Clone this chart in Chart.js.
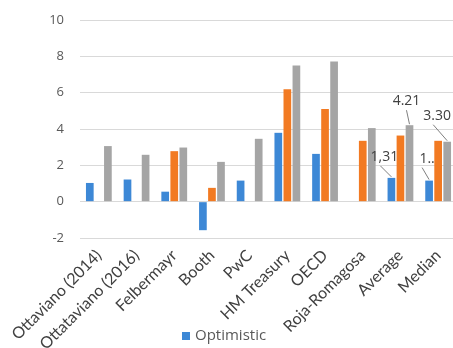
<!DOCTYPE html>
<html>
<head>
    <title>Scenario Estimates</title>
    <meta charset="UTF-8">
    <script src="https://cdn.jsdelivr.net/npm/chart.js"></script>
    <style>
        body { margin: 0; overflow: hidden; background: #fff; font-family: "Open Sans", sans-serif; }
        #wrap { position: absolute; left: 0; top: 0; width: 457px; height: 348px; }
        #legend { position: absolute; left: 182px; top: 324px; font-size: 15px; color: #595959; }
        #legend span.box { display: inline-block; width: 8px; height: 8px; background: #3d88d6; margin-right: 5px; }
    </style>
</head>
<body>
    <div id="wrap"><canvas id="estimatesChart"></canvas></div>
    <div id="legend"><span class="box"></span>Optimistic</div>

    <script>
        const categories = ['Ottaviano (2014)', 'Ottataviano (2016)', 'Felbermayr', 'Booth', 'PwC',
            'HM Treasury', 'OECD', 'Roja-Romagosa', 'Average', 'Median'];
        const optimistic  = [1.03, 1.22, 0.55, -1.57, 1.16, 3.79, 2.63, null, 1.31, 1.16];
        const central     = [null, null, 2.78, 0.76, null, 6.19, 5.10, 3.35, 3.64, 3.35];
        const pessimistic = [3.06, 2.58, 2.98, 2.19, 3.46, 7.50, 7.72, 4.05, 4.21, 3.30];
        const yTicks = [-2, 0, 2, 4, 6, 8, 10];

        // labels next to a few bars: [dataset, index, text, dx, dy, leader end dx]
        const valueLabels = [
            [0, 8, '1,31', -7, -21, -4],
            [2, 8, '4.21', -3, -24, 0],
            [2, 9, '3.30', -10, -26, -4],
            [0, 9, '1..', -2, -22, -5]
        ];

        const calloutPlugin = {
            id: 'callouts',
            afterDatasetsDraw(chart) {
                const ctx = chart.ctx;
                ctx.save();
                ctx.font = '14px "Open Sans"';
                ctx.fillStyle = '#404040';
                ctx.strokeStyle = '#7f7f7f';
                ctx.lineWidth = 1;
                ctx.textAlign = 'center';
                ctx.textBaseline = 'middle';
                valueLabels.forEach(([ds, i, text, dx, dy, lx]) => {
                    const bar = chart.getDatasetMeta(ds).data[i];
                    const tx = bar.x + dx, ty = bar.y + dy;
                    ctx.beginPath();
                    ctx.moveTo(bar.x, bar.y - 1);
                    ctx.lineTo(tx + lx, ty + 9);
                    ctx.stroke();
                    ctx.fillText(text, tx, ty);
                });
                ctx.restore();
            }
        };

        const ctx = document.getElementById('estimatesChart').getContext('2d');
        new Chart(ctx, {
            type: 'bar',
            data: {
                labels: categories,
                datasets: [
                    { label: 'Optimistic', data: optimistic, backgroundColor: '#3d88d6' },
                    { label: 'Central', data: central, backgroundColor: '#f27a22' },
                    { label: 'Pessimistic', data: pessimistic, backgroundColor: '#a5a5a5' }
                ]
            },
            options: {
                responsive: true,
                maintainAspectRatio: false,
                animation: false,
                datasets: { bar: { categoryPercentage: 0.72, barPercentage: 0.85 } },
                layout: { padding: { left: 46, top: 20, right: 0, bottom: 0 } },
                plugins: {
                    legend: { display: false },
                    tooltip: { enabled: false }
                },
                scales: {
                    x: {
                        grid: { display: false },
                        border: { display: false },
                        ticks: {
                            color: '#404040',
                            font: { family: 'Lato', size: 16 },
                            minRotation: 45,
                            maxRotation: 45,
                            autoSkip: false,
                            padding: 0
                        },
                        // fixed band for the slanted names, no extra side padding
                        afterFit: axis => {
                            axis.height = 110;
                            axis.paddingLeft = 0;
                            axis.paddingRight = 0;
                        }
                    },
                    y: {
                        min: -2,
                        max: 10,
                        afterBuildTicks: axis => { axis.ticks = yTicks.map(v => ({ value: v })); },
                        grid: { color: '#d9d9d9', drawTicks: false },
                        border: { display: false },
                        ticks: {
                            color: '#595959',
                            font: { family: 'Open Sans', size: 13 },
                            padding: 16
                        },
                        afterFit: axis => {
                            axis.width = 34;
                            axis.paddingTop = 0;
                            axis.paddingBottom = 0;
                        }
                    }
                }
            },
            plugins: [calloutPlugin]
        });
    </script>
</body>
</html>
